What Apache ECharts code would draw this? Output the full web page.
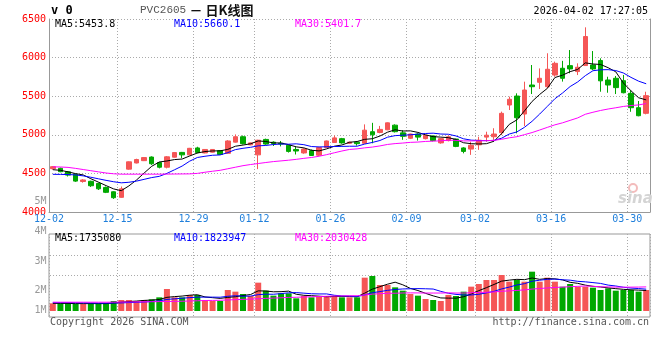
<!DOCTYPE html>
<html><head><meta charset="utf-8">
<script src="https://cdn.jsdelivr.net/npm/echarts@6/dist/echarts.min.js"></script>
<style>html,body{margin:0;padding:0;background:#fff}#c{width:660px;height:360px}</style>
</head><body><div id="c"></div>
<script>
// ---- data ----
const dates = ['12-02','12-03','12-04','12-05','12-08','12-09','12-10','12-11','12-12','12-15','12-16','12-17','12-18','12-19','12-22','12-23','12-24','12-25','12-26','12-29','12-30','12-31',
'01-05','01-06','01-07','01-08','01-09','01-12','01-13','01-14','01-15','01-16','01-19','01-20','01-21','01-22','01-23','01-26','01-27','01-28','01-29','01-30',
'02-02','02-03','02-04','02-05','02-06','02-09','02-10','02-11','02-12','02-13','02-24','02-25','02-26','02-27',
'03-02','03-03','03-04','03-05','03-06','03-09','03-10','03-11','03-12','03-13','03-16','03-17','03-18','03-19','03-20','03-23','03-24','03-25','03-26','03-27','03-30','03-31','04-01'];
const xTickLabels = ['12-02','12-15','12-29','01-12','01-26','02-09','03-02','03-16','03-30'];
// [open, close, low, high]
const ohlc = [
[4561,4587,4550,4595],[4566,4522,4515,4575],[4520,4478,4460,4530],[4488,4400,4390,4495],[4395,4415,4380,4425],
[4398,4340,4325,4405],[4370,4300,4285,4380],[4318,4255,4245,4330],[4262,4185,4170,4268],[4190,4300,4185,4330],
[4555,4650,4548,4655],[4635,4680,4630,4690],[4665,4705,4660,4712],[4712,4625,4610,4720],[4640,4580,4565,4650],
[4580,4715,4565,4725],[4710,4770,4705,4775],[4772,4740,4700,4778],[4740,4825,4735,4830],[4830,4770,4760,4845],
[4765,4810,4760,4815],[4775,4810,4770,4815],[4795,4745,4738,4800],[4760,4920,4755,4930],[4905,4975,4900,5005],
[4975,4885,4875,4990],[4870,4895,4865,4900],[4740,4930,4555,4935],[4940,4880,4870,4950],[4905,4885,4855,4915],
[4890,4880,4850,4920],[4865,4785,4770,4870],[4810,4790,4745,4845],[4765,4815,4755,4825],[4795,4732,4725,4810],
[4735,4835,4725,4840],[4835,4920,4830,4925],[4900,4960,4895,4990],[4950,4895,4885,4960],[4890,4905,4880,4910],
[4905,4885,4860,4915],[4890,5060,4885,5135],[5040,5000,4890,5155],[5030,5070,5020,5115],[5065,5155,5060,5160],
[5125,5040,5030,5135],[5025,4980,4935,5060],[4955,5010,4945,5015],[5010,4970,4925,5020],[4950,4995,4940,5000],
[4985,4925,4915,4990],[4895,4950,4885,4960],[4925,4975,4915,4990],[4945,4850,4840,4950],[4830,4785,4760,4840],
[4815,4865,4740,4910],[4870,4930,4805,4975],[4970,4995,4910,5040],[4975,5010,4935,5085],[5027,5278,4997,5300],
[5386,5460,5321,5494],[5502,5221,5019,5537],[5269,5580,5114,5688],[5645,5623,5528,5904],[5680,5732,5593,5860],
[5623,5849,5602,6056],[5774,5926,5752,5948],[5862,5732,5689,5958],[5896,5853,5797,6098],[5819,5875,5774,5926],
[5897,6273,5897,6392],[5905,5853,5839,6085],[5962,5699,5558,5991],[5710,5645,5545,5752],[5732,5611,5528,5762],
[5701,5545,5537,5775],[5537,5351,5298,5576],[5351,5247,5240,5438],[5278,5507,5265,5558]];
const ma5 = [4548,4540,4520,4497,4480,4431,4387,4342,4299,4276,4338,4414,4504,4592,4648,4661,4679,4686,4726,4764,
4783,4791,4792,4811,4852,4867,4884,4921,4913,4895,4894,4872,4844,4831,4800,4791,4818,4852,4868,4903,
4913,4941,4949,4984,5034,5065,5049,5051,5031,4999,4976,4970,4963,4939,4897,4885,4881,4885,4917,5016,
5135,5193,5310,5432,5523,5601,5742,5772,5818,5847,5932,5917,5911,5869,5816,5671,5570,5480,5452];
const ma10 = [4488,4487,4485,4480,4468,4450,4430,4410,4392,4378,4385,4400,4423,4446,4462,4500,4547,4595,4659,4706,
4722,4735,4739,4769,4808,4825,4838,4857,4862,4874,4881,4878,4883,4872,4848,4843,4845,4848,4850,4852,
4852,4880,4901,4926,4969,4989,4995,5000,5008,5017,5021,5010,5007,4985,4948,4931,4926,4924,4928,4956,
5010,5037,5097,5175,5269,5368,5467,5541,5625,5685,5766,5830,5842,5844,5832,5801,5744,5695,5661];
const ma30 = [4585,4583,4578,4565,4550,4535,4520,4505,4495,4490,4490,4490,4490,4490,4490,4491,4492,4493,4494,4500,
4515,4528,4540,4560,4580,4600,4615,4628,4641,4653,4662,4671,4682,4695,4706,4722,4743,4767,4790,4810,
4818,4831,4841,4856,4875,4886,4893,4902,4906,4914,4918,4922,4930,4928,4921,4921,4922,4924,4928,4942,
4961,4975,5002,5029,5062,5096,5129,5155,5187,5219,5266,5292,5315,5334,5350,5367,5379,5387,5405];
// volume, thousands of lots
const vol = [644,644,644,588,588,644,644,644,840,924,924,840,924,980,1148,1849,1148,1148,1345,1345,
924,840,840,1765,1625,1429,1261,2381,1709,1289,1485,1485,1065,1261,1148,1261,1261,1261,1148,1148,
1148,2801,2941,2185,2185,1989,1709,1429,1289,1008,924,840,1350,1261,1625,2045,2269,2605,2605,3025,
2465,2605,2465,3305,2465,2801,2465,2045,2269,2045,2045,1961,1765,1905,1709,1765,1765,1625,1765];
const volMa5 = [640,640,635,625,622,622,622,622,672,739,795,834,890,918,963,1148,1210,1255,1328,1367,
1182,1120,1059,1143,1199,1300,1384,1692,1681,1614,1625,1670,1407,1317,1289,1244,1199,1238,1216,1216,
1193,1501,1837,2045,2252,2420,2202,1899,1720,1485,1272,1098,1082,1077,1200,1424,1710,1961,2230,2510,
2594,2661,2633,2773,2661,2728,2700,2616,2409,2325,2174,2073,2017,1944,1877,1821,1782,1754,1726];
const volMa10 = [700,700,700,690,680,670,660,660,670,680,708,728,756,795,851,972,1022,1073,1123,1165,
1165,1165,1157,1235,1283,1241,1252,1376,1412,1406,1462,1527,1549,1499,1451,1435,1435,1323,1266,1252,
1219,1350,1538,1630,1734,1807,1852,1868,1882,1868,1846,1650,1491,1398,1342,1348,1404,1522,1653,1855,
2009,2186,2297,2501,2585,2661,2681,2625,2591,2493,2451,2387,2317,2177,2101,1997,1927,1885,1835];
const volMa30 = [740,740,740,740,740,740,740,740,745,750,760,765,770,780,790,800,810,820,840,860,
880,890,900,930,950,980,1000,1030,1060,1084,1112,1140,1154,1176,1195,1216,1236,1257,1267,1275,
1282,1347,1415,1455,1489,1494,1513,1522,1520,1509,1509,1509,1526,1509,1509,1530,1563,1571,1601,1659,
1691,1729,1775,1843,1887,1939,1979,2005,2042,2072,2102,2074,2035,2025,2010,2002,2004,2011,2026];
const volTickLabels = ['5M','4M','3M','2M','1M'];
const priceLegend = ['MA5:5453.8','MA10:5660.1','MA30:5401.7'];
const volLegend = ['MA5:1735080','MA10:1823947','MA30:2030428'];

// ---- chart ----
const MONO = '"DejaVu Sans Mono", monospace';
const RED = '#f55656', GREEN = '#00a800';
const DOT = {color:'#aaa', width:1, type:[1,2]};
const showTick = (i, v) => xTickLabels.indexOf(v) >= 0;
const chart = echarts.init(document.getElementById('c'), null, {renderer:'canvas'});
const txt = (x, y, text, fill, font, align) => ({type:'text', x:x, y:y, z:10,
  style:{text:text, fill:fill, font:font || ('10px ' + MONO), align:align || 'left', verticalAlign:'middle'}});
const volLabelY = [201, 231, 261, 290, 310];
const legendX = [55, 174, 295];
const legendColors = ['#000', '#0000ff', '#ff00ff'];
const graphics = [
  txt(51, 11, 'v 0', '#000', 'bold 12px ' + MONO),
  {type:'text', x:140, y:10, z:10, style:{text:'{a|PVC2605} {b|－ 日K线图}', verticalAlign:'middle',
    rich:{a:{fill:'#555', font:'11px "Liberation Mono", monospace'}, b:{fill:'#111', font:'bold 13px "Noto Sans CJK SC"'}}}},
  txt(648, 11, '2026-04-02 17:27:05', '#000', '10px ' + MONO, 'right'),
  txt(50, 322.5, 'Copyright 2026 SINA.COM', '#555'),
  txt(649, 322.5, 'http://finance.sina.com.cn', '#555', '10px ' + MONO, 'right'),
  {type:'line', z:0, shape:{x1:50, y1:255.5, x2:649, y2:255.5}, style:{stroke:'#aaa', lineDash:[1,2], lineWidth:1}},
  {type:'line', z:0, shape:{x1:50, y1:275.5, x2:649, y2:275.5}, style:{stroke:'#aaa', lineDash:[1,2], lineWidth:1}},
  {type:'circle', z:0, shape:{cx:633, cy:188, r:4}, style:{stroke:'#f3bcbc', fill:'none', lineWidth:2}},
  txt(618, 199, 'sina', '#d4d4d4', 'italic bold 15px "DejaVu Sans"')
];
volTickLabels.forEach((t, k) => graphics.push(txt(46.5, volLabelY[k], t, '#999', '10px ' + MONO, 'right')));
priceLegend.forEach((t, k) => graphics.push(txt(legendX[k], 24, t, legendColors[k])));
volLegend.forEach((t, k) => graphics.push(txt(legendX[k], 238.5, t, legendColors[k])));

const lineS = (data, color, xi, yi) => ({type:'line', data:data, xAxisIndex:xi, yAxisIndex:yi, symbol:'none',
  showSymbol:false, lineStyle:{color:color, width:1}, z:4, silent:true});

chart.setOption({
  animation:false,
  backgroundColor:'#fff',
  grid:[{left:49, top:19, width:601, height:193},
        {left:49, top:234, width:601, height:83, show:true, borderColor:'#999', borderWidth:1}],
  xAxis:[
    {type:'category', gridIndex:0, data:dates, boundaryGap:true,
     axisLine:{show:true, lineStyle:{color:'#999'}}, axisTick:{show:false},
     axisLabel:{interval:showTick, color:'#1f7fdb', fontFamily:MONO, fontSize:10, margin:2, padding:[0,7.6,0,0]},
     splitLine:{show:true, interval:showTick, lineStyle:DOT}},
    {type:'category', gridIndex:1, data:dates, boundaryGap:true,
     axisLine:{show:false}, axisTick:{show:false}, axisLabel:{show:false},
     splitLine:{show:true, interval:showTick, lineStyle:DOT}}
  ],
  yAxis:[
    {type:'value', gridIndex:0, min:4000, max:6500, interval:500,
     axisLine:{show:true, lineStyle:{color:'#999'}}, axisTick:{show:false},
     axisLabel:{color:'#f00', fontFamily:MONO, fontSize:10, margin:3, formatter:(v) => String(v)},
     splitLine:{show:true, lineStyle:DOT}},
    {type:'value', gridIndex:0, position:'right', min:4000, max:6500, interval:500,
     axisLine:{show:true, lineStyle:{color:'#999'}}, axisTick:{show:false}, axisLabel:{show:false}, splitLine:{show:false}},
    {type:'value', gridIndex:1, min:-504.2, max:6470.6,
     axisLine:{show:false}, axisTick:{show:false}, axisLabel:{show:false}, splitLine:{show:false}}
  ],
  series:[
    {type:'candlestick', xAxisIndex:0, yAxisIndex:0, data:ohlc, barWidth:5, z:2,
     itemStyle:{color:RED, color0:GREEN, borderColor:RED, borderColor0:GREEN, borderWidth:1}},
    lineS(ma5, '#000', 0, 0), lineS(ma10, '#0000ff', 0, 0), lineS(ma30, '#ff00ff', 0, 0),
    {type:'bar', xAxisIndex:1, yAxisIndex:2, barWidth:6, z:2,
     data:vol.map((v, i) => ({value:v, itemStyle:{color: ohlc[i][1] >= ohlc[i][0] ? RED : GREEN}}))},
    lineS(volMa5, '#000', 1, 2), lineS(volMa10, '#0000ff', 1, 2), lineS(volMa30, '#ff00ff', 1, 2)
  ],
  graphic:graphics
});
</script></body></html>
